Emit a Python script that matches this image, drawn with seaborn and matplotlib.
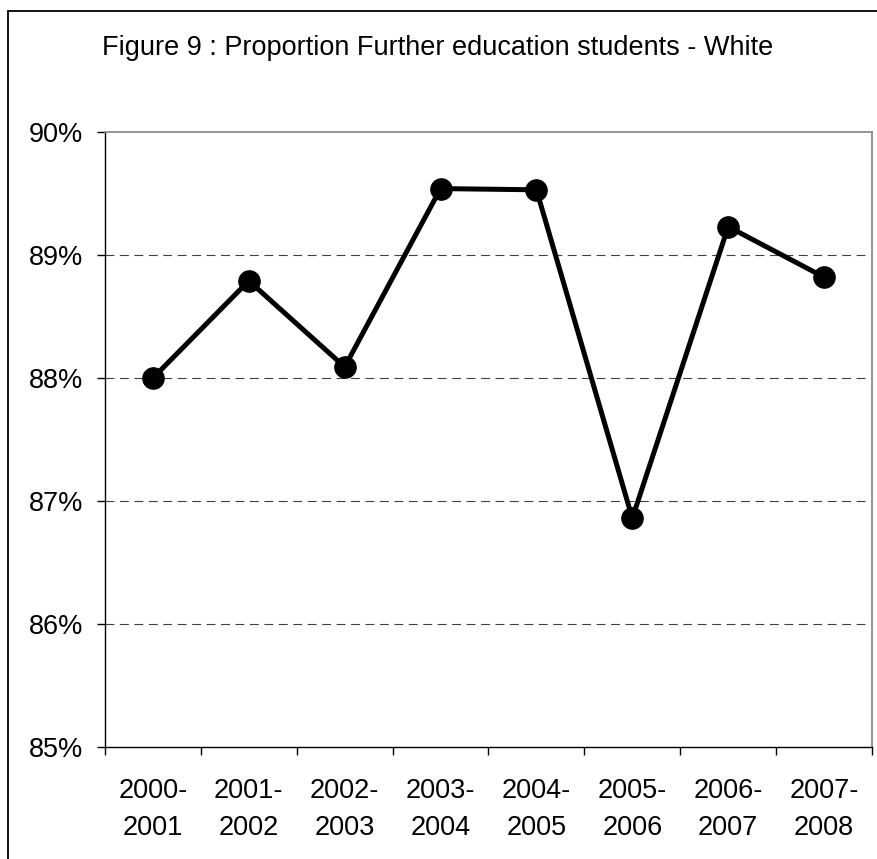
import numpy as np
import pandas as pd
import matplotlib
matplotlib.use('Agg')
import matplotlib.pyplot as plt
from matplotlib.patches import Rectangle
from matplotlib.ticker import FuncFormatter, FixedLocator
import seaborn as sns

years = ['2000-\n2001', '2001-\n2002', '2002-\n2003', '2003-\n2004',
         '2004-\n2005', '2005-\n2006', '2006-\n2007', '2007-\n2008']
white_pct = [88.00, 88.79, 88.09, 89.54, 89.53, 86.86, 89.23, 88.82]
y_ticks = [85, 86, 87, 88, 89, 90]

sns.set_style('white')
plt.rcParams['font.family'] = ['Liberation Sans', 'DejaVu Sans']
plt.rcParams['text.color'] = 'black'
plt.rcParams['xtick.color'] = 'black'
plt.rcParams['ytick.color'] = 'black'

data = pd.DataFrame({'pos': np.arange(len(years)), 'pct': white_pct})

fig = plt.figure(figsize=(8.78, 8.59), dpi=100)
ax = fig.add_axes([105 / 878, 1 - 747 / 859, (872 - 105) / 878, (747 - 132) / 859])

sns.lineplot(data=data, x='pos', y='pct', ax=ax, color='black', linewidth=3.6,
             marker='o', markersize=15.5, markeredgecolor='black', sort=False)

ax.set_xlim(-0.5, len(years) - 0.5)
ax.set_ylim(85, 90)
ax.set_yticks(y_ticks)
ax.yaxis.set_major_formatter(FuncFormatter(lambda v, p: f'{v:.0f}%'))
ax.set_xticks(data['pos'])
ax.set_xticklabels(years, linespacing=1.55)
ax.xaxis.set_minor_locator(FixedLocator(np.arange(-0.5, len(years), 1.0)))
ax.tick_params(axis='x', which='major', length=0, pad=22, labelsize=19.5, labelcolor='black')
ax.tick_params(axis='x', which='minor', length=6, width=1, color='black', direction='out', bottom=True)
ax.tick_params(axis='y', length=6, width=1, color='black', direction='out', left=True, pad=10,
               labelsize=19.5, labelcolor='black')
ax.set_xlabel('')
ax.set_ylabel('')

for yv in y_ticks[1:-1]:
    ax.axhline(yv, color='#404040', linewidth=0.8, dashes=(8, 5), zorder=0)

for side in ['top', 'right']:
    ax.spines[side].set_color('#8c8c8c')
    ax.spines[side].set_linewidth(1.3)
for side in ['left', 'bottom']:
    ax.spines[side].set_color('black')
    ax.spines[side].set_linewidth(1.0)

fig.text(0.499, 1 - 48 / 859, 'Figure 9 : Proportion Further education students - White',
         ha='center', va='center', fontsize=19.5, color='black')

fig.patches.append(Rectangle((8 / 878, -0.05), 1.1, 1 - 11 / 859 + 0.05,
                             transform=fig.transFigure, fill=False,
                             edgecolor='black', linewidth=1.3))

fig.savefig('out.png', dpi=100)
